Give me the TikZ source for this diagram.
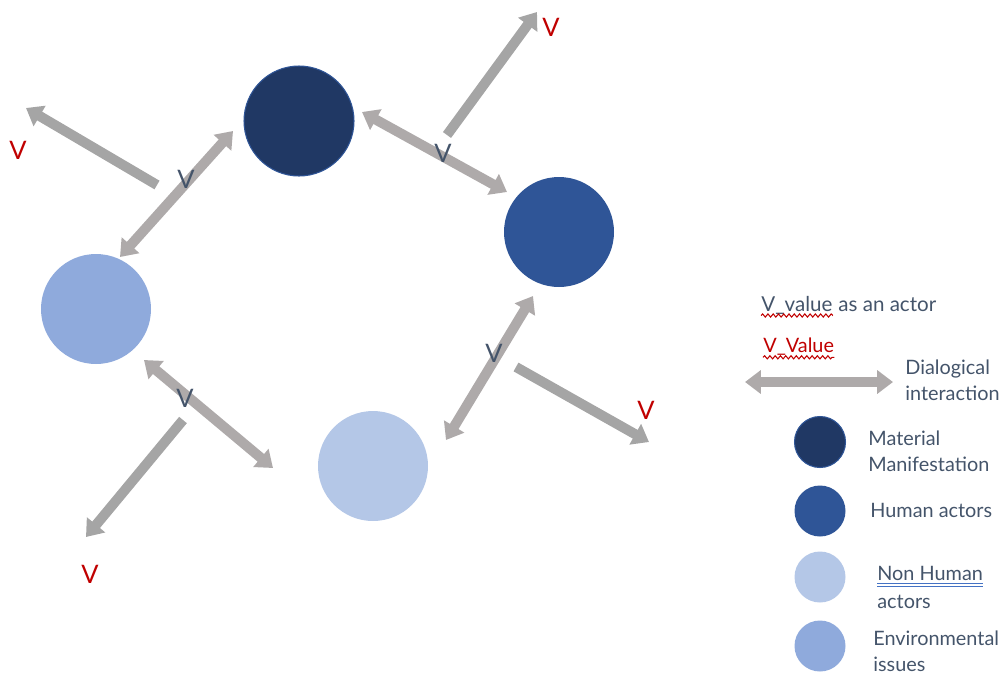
\documentclass[tikz,border=0pt]{standalone}
\usepackage{fontspec}
\setmainfont{Lato}
\usetikzlibrary{arrows.meta,decorations.pathmorphing}

\definecolor{matcol}{HTML}{203864}
\definecolor{humcol}{HTML}{2F5597}
\definecolor{nhcol}{HTML}{B4C7E7}
\definecolor{envcol}{HTML}{8FAADC}
\definecolor{dialgray}{HTML}{AEAAAA}
\definecolor{valgray}{HTML}{A5A5A5}
\definecolor{slate}{HTML}{44546A}
\definecolor{valred}{HTML}{C00000}
\definecolor{linkblue}{HTML}{4472C4}

\begin{document}
\begin{tikzpicture}[x=0.02cm,y=-0.02cm,
	actor/.style={circle,inner sep=0pt,minimum size=110*0.02cm},
	keydot/.style={circle,inner sep=0pt,minimum size=51*0.02cm},
	dial/.style={dialgray,line width=10*0.02cm,{Triangle[width=13pt,length=9pt]}-{Triangle[width=13pt,length=9pt]}},
	val/.style={valgray,line width=10*0.02cm,-{Triangle[width=13pt,length=9pt]}},
	vlab/.style={text=slate,font=\fontsize{14.5}{16}\selectfont,inner sep=0pt},
	vred/.style={text=valred,font=\fontsize{14.5}{16}\selectfont,inner sep=0pt},
	keytxt/.style={text=slate,font=\fontsize{11.3}{15}\selectfont,anchor=west,align=left,inner sep=0pt},
	wavy/.style={valred,line width=0.6pt,decorate,decoration={snake,amplitude=0.9pt,segment length=3pt}}]
  \useasboundingbox (0,0) rectangle (1004,677);

	% the four kinds of actors
	\node[actor,fill=matcol,draw=humcol,line width=0.6pt] (matl) at (299,121) {};
	\node[actor,fill=humcol] (human) at (559,232) {};
	\node[actor,fill=envcol] (envir) at (96,309) {};
	\node[actor,fill=nhcol] (nonhum) at (373,466) {};

	% dialogical interactions
	\coordinate (d1a) at (120,257);
	\coordinate (d1b) at (233,131);
	\coordinate (d2a) at (362,112);
	\coordinate (d2b) at (507,192);
	\coordinate (d3a) at (533,296);
	\coordinate (d3b) at (446,440);
	\coordinate (d4a) at (144,360);
	\coordinate (d4b) at (273,468);
	\draw[dial] (d1a) -- (d1b);
	\draw[dial] (d2a) -- (d2b);
	\draw[dial] (d3a) -- (d3b);
	\draw[dial] (d4a) -- (d4b);
	\node[vlab] (v1) at (186,179) {V};
	\node[vlab] (v2) at (443,153) {V};
	\node[vlab] (v3) at (494,353) {V};
	\node[vlab] (v4) at (185,398) {V};

	% values going out
	\coordinate (o1a) at (157,185);
	\coordinate (o1b) at (26,108);
	\coordinate (o2a) at (447,135);
	\coordinate (o2b) at (537,12);
	\coordinate (o3a) at (516,367);
	\coordinate (o3b) at (649,442);
	\coordinate (o4a) at (183,420);
	\coordinate (o4b) at (86,537);
	\draw[val] (o1a) -- (o1b);
	\draw[val] (o2a) -- (o2b);
	\draw[val] (o3a) -- (o3b);
	\draw[val] (o4a) -- (o4b);
	\node[vred] (r1) at (18,150) {V};
	\node[vred] (r2) at (551,27) {V};
	\node[vred] (r3) at (646,410) {V};
	\node[vred] (r4) at (90,574) {V};

	% key
	\node[keytxt,font=\fontsize{11.7}{13}\selectfont] (kv) at (761,305) {V\_value};
	\node[keytxt,font=\fontsize{11.7}{13}\selectfont] (kvtail) at ([xshift=3pt]kv.east) {as an actor};
	\draw[wavy] ([yshift=-2.5pt]kv.base west) -- ([yshift=-2.5pt]kv.base east);
	\node[keytxt,text=valred] (kr) at (763,347) {V\_Value};
	\draw[wavy] ([yshift=-2.5pt]kr.base west) -- ([yshift=-2.5pt]kr.base east);
	\coordinate (kda) at (745,382);
	\coordinate (kdb) at (893,382);
	\draw[dial] (kda) -- (kdb);
	\node[keytxt] (kdial) at (905,380) {Dialogical\\interaction};

	\node[keydot,fill=matcol,draw=humcol,line width=0.6pt] (kmatl) at (820,442) {};
	\node[keytxt] (tmatl) at (868,451) {Material\\Manifestation};
	\node[keydot,fill=humcol] (khuman) at (820,511) {};
	\node[keytxt] (thuman) at (870,510) {Human actors};
	\node[keydot,fill=nhcol] (knonhum) at (820,577) {};
	\node[keytxt] (tnonhum) at (877,573) {Non Human};
	\draw[linkblue,line width=0.5pt] ([yshift=-2pt]tnonhum.base west) -- ([yshift=-2pt]tnonhum.base east);
	\draw[linkblue,line width=0.5pt] ([yshift=-3.4pt]tnonhum.base west) -- ([yshift=-3.4pt]tnonhum.base east);
	\node[keytxt] (tnonhum2) at (877,602) {actors};
	\node[keydot,fill=envcol] (kenvir) at (820,646) {};
	\node[keytxt] (tenvir) at (873,651) {Environmental\\issues};
\end{tikzpicture}
\end{document}
